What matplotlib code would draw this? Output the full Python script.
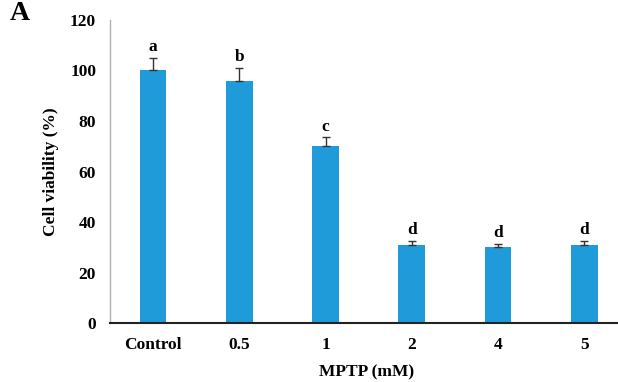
import matplotlib
matplotlib.use("Agg")
import matplotlib.pyplot as plt
import numpy as np

# MTT viability after MPTP exposure
doses = ["Control", "0.5", "1", "2", "4", "5"]
viability = [100, 96, 70, 31, 30, 31]
sem = [5, 5, 3.5, 1.5, 1.5, 1.5]
groups = ["a", "b", "c", "d", "d", "d"]

plt.rcParams["font.family"] = ["Liberation Serif", "DejaVu Serif"]
plt.rcParams["font.weight"] = "bold"

fig = plt.figure(figsize=(6.18, 3.82), dpi=100)
ax = fig.add_axes([0.178, 0.154, 0.83, 0.794])

x = np.arange(len(doses))
ax.bar(x, viability, width=0.31, color="#1e9bd8", zorder=2)
ax.errorbar(x, viability, yerr=[np.zeros(len(sem)), sem], fmt="none",
            ecolor="#333333", elinewidth=1.0, capsize=3, capthick=1.0, zorder=3)

for xi, v, e, g in zip(x, viability, sem, groups):
    ax.text(xi, v + e + 1.0, g, ha="center", va="bottom", fontsize=12.5,
            fontweight="bold")

ax.set_xlim(-0.5, 5.45)
ax.set_ylim(0, 120)
ax.set_yticks(np.arange(0, 121, 20))
ax.set_xticks(x)
ax.set_xticklabels(doses)
ax.tick_params(axis="both", length=0, labelsize=12.5, pad=10)
ax.tick_params(axis="y", pad=10)

ax.spines["top"].set_visible(False)
ax.spines["right"].set_visible(False)
ax.spines["left"].set_color("#b0b0b0")
ax.spines["left"].set_linewidth(1.0)
ax.spines["bottom"].set_color("#222222")
ax.spines["bottom"].set_linewidth(1.5)

ax.set_ylabel("Cell viability (%)", fontsize=12.5, fontweight="bold", labelpad=8)
ax.set_xlabel("MPTP (mM)", fontsize=12.5, fontweight="bold", labelpad=8)

fig.text(0.015, 0.998, "A", fontsize=20, fontweight="bold", va="top")

fig.savefig("out.png", dpi=100)
